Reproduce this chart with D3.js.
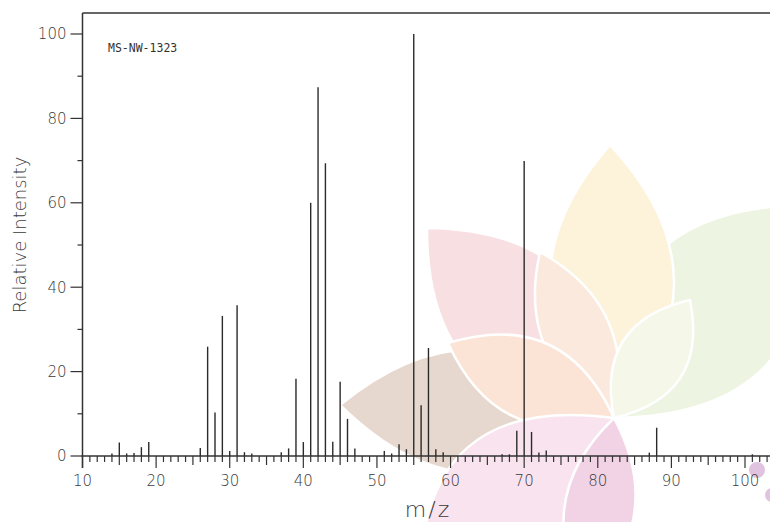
<!DOCTYPE html>
<html>
<head>
<meta charset="utf-8">
<script src="https://cdn.jsdelivr.net/npm/d3@7"></script>
<style>
  html, body { margin: 0; padding: 0; background: #fff; }
  svg { display: block; }
  text { font-family: "DejaVu Sans", Verdana, sans-serif; fill: #3a3a3a; font-weight: 200; }
</style>
</head>
<body>
<div id="chart"></div>
<script>
"use strict";

// peaks (m/z, relative intensity)
var mzValues = [14, 15, 16, 17, 18, 19, 26, 27, 28, 29, 30, 31, 32, 33, 37, 38, 39, 40,
  41, 42, 43, 44, 45, 46, 47, 51, 52, 53, 54, 55, 56, 57, 58, 59, 67, 68, 69, 70,
  71, 72, 73, 87, 88, 101];
var intensities = [0.6, 3.2, 0.6, 0.7, 2.1, 3.3, 1.9, 25.9, 10.3, 33.2, 1.2, 35.7, 0.9, 0.6,
  0.9, 1.8, 18.3, 3.3, 60.0, 87.4, 69.4, 3.4, 17.6, 8.8, 1.8, 1.2, 0.6, 2.8, 1.6, 100,
  12.0, 25.6, 1.6, 0.9, 0.4, 0.4, 6.0, 69.9, 5.7, 0.8, 1.3, 0.8, 6.7, 0.4];
var xTickLabels = [10, 20, 30, 40, 50, 60, 70, 80, 90, 100];
var yTickLabels = [0, 20, 40, 60, 80, 100];
var spectrumId = "MS-NW-1323";

var W = 770, H = 522;
var svg = d3.select("#chart").append("svg").attr("width", W).attr("height", H);

var x = d3.scaleLinear().domain([10, 100]).range([82.5, 745]);
var y = d3.scaleLinear().domain([0, 100]).range([456, 34]);
var xEnd = x.invert(W + 2);

// watermark lotus behind the plot
function petal(c, t, hw) {
  var mx = (c[0] + t[0]) / 2, my = (c[1] + t[1]) / 2;
  var dx = t[0] - c[0], dy = t[1] - c[1], len = Math.hypot(dx, dy);
  var px = -dy / len * hw * 2, py = dx / len * hw * 2;
  var p = d3.path();
  p.moveTo(c[0], c[1]);
  p.quadraticCurveTo(mx + px, my + py, t[0], t[1]);
  p.quadraticCurveTo(mx - px, my - py, c[0], c[1]);
  p.closePath();
  return p.toString();
}
var center = [614, 418];
var petals = [
  { tip: [805, 205], hw: 78, color: "#edf4e1" },
  { tip: [610, 145], hw: 62, color: "#fdf2da" },
  { tip: [427, 228], hw: 66, color: "#f8dfe2" },
  { tip: [540, 252], hw: 34, color: "#fce9de" },
  { tip: [340, 405], hw: 62, color: "#e7d8cf" },
  { tip: [448, 343], hw: 40, color: "#fbe4d6" },
  { tip: [690, 300], hw: 34, color: "#f5f7e9" },
  { tip: [420, 590], hw: 75, color: "#f8e3ee" },
  { tip: [585, 600], hw: 35, color: "#f2d3e5" }
];
var wm = svg.append("g").attr("class", "watermark");
wm.selectAll("path").data(petals).join("path")
  .attr("d", function (d) { return petal(center, d.tip, d.hw); })
  .attr("fill", function (d) { return d.color; })
  .attr("stroke", "#fff").attr("stroke-width", 2.5);
wm.append("circle").attr("cx", 757).attr("cy", 470).attr("r", 8).attr("fill", "#e0c4df");
wm.append("circle").attr("cx", 772).attr("cy", 495).attr("r", 7).attr("fill", "#e0c4df");

// frame: top line
svg.append("line").attr("x1", x(10)).attr("x2", W + 2)
  .attr("y1", 13).attr("y2", 13).attr("stroke", "#333").attr("stroke-width", 1.5);

// x axis with 1-unit ticks
var unitTicks = d3.range(10, Math.floor(xEnd) + 1);
var xg = svg.append("g").attr("transform", "translate(0," + y(0) + ")");
xg.append("line").attr("x1", x(10) - 1).attr("x2", W + 2)
  .attr("stroke", "#333").attr("stroke-width", 1.5);
xg.selectAll(".tk").data(unitTicks).join("line").attr("class", "tk")
  .attr("x1", function (d) { return x(d); }).attr("x2", function (d) { return x(d); })
  .attr("y1", 0)
  .attr("y2", function (d) { return d % 10 === 0 ? 12 : d % 5 === 0 ? 9 : 6; })
  .attr("stroke", "#333").attr("stroke-width", 1.2);
xg.selectAll(".lb").data(xTickLabels).join("text").attr("class", "lb")
  .attr("x", function (d) { return x(d); }).attr("y", 30)
  .attr("text-anchor", "middle").style("font-size", "15px").text(function (d) { return d; });

// y axis
var yg = svg.append("g").attr("transform", "translate(" + x(10) + ",0)");
yg.append("line").attr("y1", 13).attr("y2", y(0) + 12)
  .attr("stroke", "#333").attr("stroke-width", 1.5);
yg.selectAll(".tk").data(d3.range(0, 101, 10)).join("line").attr("class", "tk")
  .attr("x1", function (d) { return d % 20 === 0 ? -12 : -5; }).attr("x2", 0)
  .attr("y1", function (d) { return y(d); }).attr("y2", function (d) { return y(d); })
  .attr("stroke", "#333").attr("stroke-width", 1.2);
yg.selectAll(".lb").data(yTickLabels).join("text").attr("class", "lb")
  .attr("x", -16).attr("y", function (d) { return y(d); }).attr("dy", "0.36em")
  .attr("text-anchor", "end").style("font-size", "15px").text(function (d) { return d; });

// peaks
var peaks = mzValues.map(function (m, i) { return { mz: m, v: intensities[i] }; });
svg.append("g").selectAll("line").data(peaks).join("line")
  .attr("x1", function (d) { return x(d.mz); }).attr("x2", function (d) { return x(d.mz); })
  .attr("y1", y(0)).attr("y2", function (d) { return y(d.v); })
  .attr("stroke", "#2a2a2a").attr("stroke-width", 1.4);

// labels
svg.append("text").attr("x", 108).attr("y", 52)
  .style("font-family", "'DejaVu Sans Mono', monospace").style("font-size", "11.5px")
  .style("font-weight", "normal").style("fill", "#333").text(spectrumId);
svg.append("text").attr("transform", "translate(26,235) rotate(-90)")
  .attr("text-anchor", "middle").style("font-size", "18px").text("Relative Intensity");
svg.append("text").attr("x", 428).attr("y", 517)
  .attr("text-anchor", "middle").style("font-size", "22px").style("letter-spacing", "2px")
  .text("m/z");
</script>
</body>
</html>
